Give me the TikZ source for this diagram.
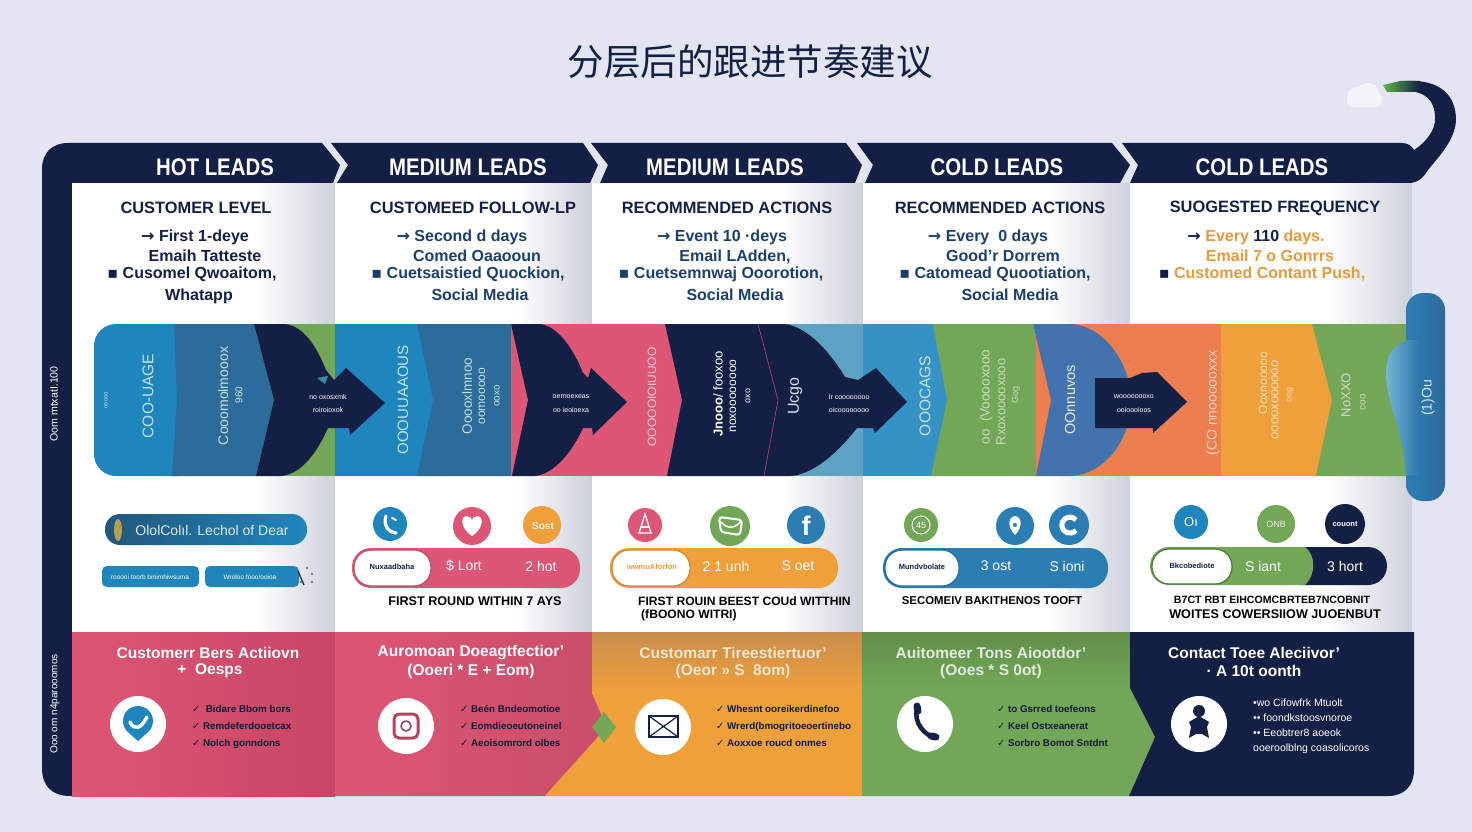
\documentclass[tikz,border=0pt]{standalone}
\usepackage{fontspec}
\setmainfont{Liberation Sans}
\newfontfamily\cjkfont{Noto Sans CJK SC}
\newfontfamily\symfont{DejaVu Sans}
\newfontfamily\headfont[FakeStretch=.85]{Liberation Sans}
\definecolor{paper}{HTML}{E3E6F2}
\definecolor{navyband}{HTML}{141F45}
\definecolor{bluea}{HTML}{1F86BD}
\definecolor{blueb}{HTML}{2B6C9B}
\definecolor{bluec}{HTML}{4273AC}
\definecolor{blued}{HTML}{2D7DB5}
\definecolor{skyblue}{HTML}{5FA3C4}
\definecolor{greenband}{HTML}{72A757}
\definecolor{pinkband}{HTML}{DE5675}
\definecolor{pinkdark}{HTML}{C84565}
\definecolor{orangeband}{HTML}{EFA03B}
\definecolor{orangetop}{HTML}{C98C4C}
\definecolor{redorange}{HTML}{EB7F4F}
\definecolor{inkblue}{HTML}{1C3F6E}
\definecolor{inkorange}{HTML}{E49A3F}
\definecolor{panelgray}{HTML}{CDD1DB}
\definecolor{dotgray}{HTML}{D8DCEA}
\pgfdeclarehorizontalshading{panelshade}{100bp}{color(0bp)=(white); color(25bp)=(white); color(60bp)=(white); color(75bp)=(panelgray); color(100bp)=(panelgray)}
\newcommand{\chk}{{\symfont ✓}}
\newcommand{\arr}{{\symfont →}}
\newcommand{\sqb}{{\symfont ▪}}
\begin{document}
\begin{tikzpicture}[x=1pt,y=-1pt,
		hdrtext/.style={text=white,inner sep=0,font=\headfont\bfseries\fontsize{24}{24}\selectfont},
		coltitle/.style={text=navyband,inner sep=0,font=\bfseries\fontsize{16.4}{17}\selectfont},
		colline/.style={inner sep=0,text height=11,text depth=3,font=\bfseries\fontsize{16}{17}\selectfont},
		bandtext/.style={rotate=90,inner sep=0,font=\fontsize{13}{14}\selectfont},
		tinytext/.style={text=white,inner sep=0,font=\fontsize{7}{8}\selectfont},
		pilltext/.style={text=white,inner sep=0,font=\fontsize{14}{14}\selectfont},
		pillname/.style={inner sep=0,font=\bfseries\fontsize{7.5}{8}\selectfont},
		roundtext/.style={text=black,inner sep=0,font=\bfseries\fontsize{12.6}{13}\selectfont},
		stagetitle/.style={text=white,inner sep=0,font=\bfseries\fontsize{15.5}{16}\selectfont},
		checktext/.style={anchor=west,text=navyband!80!black,inner sep=0,text height=8,text depth=2,font=\bfseries\fontsize{9.8}{11}\selectfont},
		sidetext/.style={rotate=90,text=white,inner sep=0,font=\fontsize{10}{10}\selectfont}]
	\useasboundingbox (0,0) rectangle (1472,832);
	\fill[paper] (0,0) rectangle (1472,832);
	\foreach \x in {1420,1430,...,1470} \foreach \y in {680,690,...,830} \fill[dotgray] (\x,\y) circle (.8);
	\foreach \x in {0,10,...,90} \foreach \y in {50,60,...,130} \fill[dotgray] (\x,\y) circle (.8);
	\node[inner sep=0,text=navyband,font=\cjkfont\fontsize{36.5}{36}\selectfont] (title) at (750,62) {分层后的跟进节奏建议};
	\foreach \x/\y/\r in {1357/97/10, 1368/94/11, 1374/99/8} \fill[white!60!paper] (\x,\y) circle (\r);
	\fill[white!60!paper,rounded corners=5] (1347,95) rectangle (1381,107);
	\fill[navyband] (42,169) .. controls (42,153) and (52,143) .. (68,143) -- (322,143) -- (340,165) -- (333,183) -- (72,183) -- (72,796) -- (70,796) .. controls (52,796) and (42,786) .. (42,768) -- cycle;
	\foreach \a/\b/\c/\d/\e/\f in {331/348/337/583/598/590, 591/608/600/846/862/855, 857/873/865/1112/1130/1120}
		\fill[navyband] (\a,143) -- (\d,143) -- (\e,165) -- (\f,183) -- (\c,183) -- (\b,165) -- cycle;
	\fill[navyband] (1122,143) -- (1402,143) .. controls (1408,143) and (1412,146) .. (1414,150) .. controls (1425,143) and (1436,130) .. (1435,118) .. controls (1435,100) and (1425,91) .. (1405,91) -- (1405,81) .. controls (1440,79) and (1456,95) .. (1456,120) .. controls (1455,140) and (1440,155) .. (1428,170) .. controls (1423,178) and (1418,183) .. (1408,183) -- (1130,183) -- (1138,165) -- cycle;
	\shade[left color=greenband!80!green,middle color=green!30!greenband!80!white,right color=navyband] (1383,85) -- (1400,81) -- (1420,81) -- (1420,92) -- (1400,92) -- (1387,92) -- cycle;
	\foreach \a/\b in {72/335, 335/592, 592/863, 863/1130, 1130/1412}
		\shade[shading=panelshade] (\a,183) rectangle (\b,632);
	% band
	\fill[greenband] (254,324) rectangle (335,476);
	\fill[bluea,rounded corners=22] (94,324) rectangle (200,476);
	\fill[blueb] (174,324) -- (254,324) -- (274,400) -- (256,476) -- (172,476) -- (177,400) -- cycle;
	\fill[bluea] (335,324) rectangle (440,476);
	\fill[blueb] (417,324) -- (511,324) -- (528,400) -- (512,476) -- (417,476) -- (433,400) -- cycle;
	\fill[pinkband] (511,324) rectangle (592,476);
	\fill[pinkband] (592,324) rectangle (690,476);
	\fill[skyblue] (784,324) rectangle (863,476);
	\fill[bluea!90!white] (863,324) rectangle (955,476);
	\fill[greenband] (933,324) -- (1033,324) -- (1051,400) -- (1036,476) -- (931,476) -- (947,400) -- cycle;
	\fill[redorange] (1036,324) rectangle (1221,476);
	\fill[bluec] (1033,324) -- (1071,324) .. controls (1105,326) and (1131,365) .. (1131,400) .. controls (1131,440) and (1105,474) .. (1071,476) -- (1036,476) -- (1051,400) -- cycle;
	\fill[orangeband] (1221,324) rectangle (1340,476);
	\fill[greenband] (1312,324) -- (1407,324) -- (1407,476) -- (1316,476) -- (1332,400) -- cycle;
	\fill[navyband] (254,324) -- (285,324) .. controls (305,326) and (318,350) .. (326,370) -- (334,380) -- (346,368) -- (385,403) -- (350,435) -- (349,428) -- (328,428) .. controls (318,450) and (303,474) .. (281,476) -- (256,476) -- (274,400) -- cycle;
	\fill[navyband] (511,324) -- (540,324) .. controls (558,326) and (574,350) .. (583,373) -- (588,378) -- (591,368) -- (627,402) -- (593,435) -- (592,428) -- (583,428) .. controls (573,450) and (555,474) .. (535,476) -- (512,476) -- (528,400) -- cycle;
	\fill[navyband] (665,324) -- (784,324) .. controls (808,326) and (832,355) .. (845,377) -- (858,380) -- (876,368) -- (907,402) -- (875,433) -- (873,428) -- (857,428) .. controls (840,450) and (815,474) .. (791,476) -- (667,476) -- (682,400) -- cycle;
	\draw[pinkband!70!navyband,line width=.7] (758,324) -- (778,400) -- (764,476);
	\fill[navyband] (1095,378) -- (1130,378) -- (1142,373) -- (1157,372) -- (1187,402) -- (1153,433) -- (1153,428) -- (1095,428) -- cycle;
	\fill[bluea!70!greenband] (317,378) -- (328,376) -- (325,384) -- cycle;
	\shade[left color=blued,right color=blueb,rounded corners=17] (1406,293) rectangle (1445,501);
	\shade[left color=bluea!60!white,right color=blued!55!blueb] (1407,340) .. controls (1398,345) and (1385,350) .. (1386,375) .. controls (1387,405) and (1403,430) .. (1406,475) -- (1420,475) -- (1420,340) -- cycle;
	% bottom strip
	\shade[left color=pinkband,right color=pinkdark] (72,632) rectangle (335,796);
	\shade[left color=pinkband,right color=pinkband!90!black] (335,632) -- (592,632) -- (592,693) -- (607,727) -- (545,796) -- (335,796) -- cycle;
	\fill[orangeband] (592,632) -- (862,632) -- (862,796) -- (545,796) -- (607,727) -- (592,693) -- cycle;
	\shade[top color=orangetop,bottom color=orangeband] (592,632) rectangle (862,692);
	\fill[greenband] (592,727) -- (604,712) -- (616,727) -- (604,743) -- cycle;
	\fill[greenband] (862,632) -- (1130,632) -- (1130,688) -- (1155,737) -- (1129,796) -- (862,796) -- cycle;
	\shade[top color=greenband!85!black,bottom color=greenband] (862,632) rectangle (1130,688);
	\fill[navyband] (1130,632) -- (1414,632) -- (1414,770) .. controls (1414,786) and (1404,796) .. (1388,796) -- (1129,796) -- (1155,737) -- (1130,688) -- cycle;
	% pills
	\shade[left color=blueb!80!black,right color=bluea,rounded corners=15] (105,514) rectangle (307,545);
	\fill[inkorange!60!greenband] (118,530) ellipse (4 and 11);
	\node[text=white!85!bluea,inner sep=0,font=\fontsize{14}{14}\selectfont] (pillone) at (212,530) {OlolColıl. Lechol of Dear};
	\fill[bluea,rounded corners=5] (102,566) rectangle (199,587);
	\fill[bluea,rounded corners=5] (205,566) rectangle (299,587);
	\draw[navyband,line width=1.2] (298,571) -- (304,585);
	\foreach \x/\y in {307/568, 312/574, 301/582, 312/582} \fill[navyband] (\x,\y) circle (.8);
	\node[tinytext,font=\fontsize{6.5}{7}\selectfont] (boxone) at (150,577) {rooooi toorb bmimhiwsuma};
	\node[tinytext,font=\fontsize{6.5}{7}\selectfont] (boxtwo) at (250,577) {Wroloo fooo/ooioa};
	\foreach \a/\b/\m/\c in {352/580/431/pinkband, 610/838/690/orangeband, 883/1108/959/blued}
		{\fill[\c,rounded corners=19] (\a,548) rectangle (\b,588);
		\fill[white,draw=\c!85!black,line width=1.2,rounded corners=17] (\a+2,550) rectangle (\m,586);}
	\fill[navyband,rounded corners=19] (1280,547) rectangle (1387,585);
	\fill[greenband,rounded corners=19] (1150,547) rectangle (1300,585);
	\fill[greenband] (1280,547) -- (1305,547) .. controls (1316,555) and (1316,575) .. (1305,585) -- (1280,585) -- cycle;
	\fill[white,draw=greenband!70!black,line width=1.2,rounded corners=17] (1152,549) rectangle (1232,584);
	% circles
	\foreach \x/\y/\r/\c in {390/524/17/bluea, 472/526/19/pinkband, 542/525/19/orangeband, 645/525/17/pinkband, 730/526/20/greenband, 806/525/19/blued, 921/525/17/greenband, 1015/526/19/blued, 1069/525/20/blued, 1191/522/17/bluea, 1276/524/19/greenband, 1345/524/20/navyband}
		\fill[\c] (\x,\y) circle (\r);
	\draw[white,line width=3.2,line cap=round] (386,516) .. controls (383,525) and (388,532) .. (396,533);
	\draw[white,line width=2,line cap=round] (392,518) -- (396,520);
	\fill[white] (472,536) .. controls (460,528) and (460,516) .. (467,516) .. controls (470,516) and (472,519) .. (472,520) .. controls (472,519) and (474,516) .. (477,516) .. controls (484,516) and (484,528) .. (472,536);
	\node[text=white!85!orangeband,inner sep=0,font=\bfseries\fontsize{10}{10}\selectfont] (sost) at (543,526) {Sost};
	\draw[white,line width=1.3] (645,514) -- (639,533) -- (651,533) -- cycle;
	\draw[white,line width=1.3] (641,527) -- (649,527);
	\draw[white,line width=2,rounded corners=3] (719,517) -- (742,520) -- (740,535) -- (721,532) -- cycle;
	\draw[white,line width=1.5] (721,522) .. controls (728,530) and (736,528) .. (741,521);
	\node[text=white,inner sep=0,font=\bfseries\fontsize{27}{27}\selectfont] (fb) at (806,526) {f};
	\node[text=white,inner sep=0,font=\fontsize{9}{9}\selectfont] (gicon) at (921,525) {45};
	\draw[white,line width=1] (921,525) circle (9);
	\fill[white] (1015,535) .. controls (1007,527) and (1008,517) .. (1015,516) .. controls (1022,517) and (1023,527) .. (1015,535);
	\fill[blued] (1015,525) circle (2);
	\draw[white,line width=5] (1076,520) arc (-40:-320:8);
	\node[text=white,inner sep=0,font=\fontsize{13}{13}\selectfont] (oi) at (1191,522) {Oı};
	\node[text=white!85!greenband,inner sep=0,font=\fontsize{9}{9}\selectfont] (onb) at (1276,524) {ONB};
	\node[text=white,inner sep=0,font=\bfseries\fontsize{7.5}{8}\selectfont] (couont) at (1345,524) {couont};
	% panel text
	\node[hdrtext] (hdrone) at (215,167) {HOT LEADS};
	\node[hdrtext] (hdrtwo) at (468,167) {MEDIUM LEADS};
	\node[hdrtext] (hdrthree) at (725,167) {MEDIUM LEADS};
	\node[hdrtext] (hdrfour) at (997,167) {COLD LEADS};
	\node[hdrtext] (hdrfive) at (1262,167) {COLD LEADS};
	\node[coltitle] (ctone) at (196,208) {CUSTOMER LEVEL};
	\node[coltitle] (cttwo) at (473,208) {CUSTOMEED FOLLOW-LP};
	\node[coltitle] (ctthree) at (727,208) {RECOMMENDED ACTIONS};
	\node[coltitle] (ctfour) at (1000,208) {RECOMMENDED ACTIONS};
	\node[coltitle] (ctfive) at (1275,208) {SUOGESTED FREQUENCY};
	\node[colline,text=navyband] (aone) at (195,237) {\arr{} First 1-deye};
	\node[colline,text=navyband] (bone) at (205,257) {Emaih Tatteste};
	\node[colline,text=navyband] (cone) at (192,274) {\sqb{} Cusomel Qwoaitom,};
	\node[colline,text=navyband] (done) at (199,296) {Whatapp};
	\node[colline,text=inkblue] (atwo) at (462,237) {\arr{} Second d days};
	\node[colline,text=inkblue] (btwo) at (477,257) {Comed Oaaooun};
	\node[colline,text=inkblue] (ctwo) at (468,274) {\sqb{} Cuetsaistied Quockion,};
	\node[colline,text=inkblue] (dtwo) at (480,296) {Social Media};
	\node[colline,text=inkblue] (athree) at (722,237) {\arr{} Event 10 ·deys};
	\node[colline,text=inkblue] (bthree) at (735,257) {Email LAdden,};
	\node[colline,text=inkblue] (cthree) at (721,274) {\sqb{} Cuetsemnwaj Ooorotion,};
	\node[colline,text=inkblue] (dthree) at (735,296) {Social Media};
	\node[colline,text=inkblue] (afour) at (988,237) {\arr{} Every\ \ 0 days};
	\node[colline,text=inkblue] (bfour) at (1003,257) {Good'r Dorrem};
	\node[colline,text=inkblue] (cfour) at (995,274) {\sqb{} Catomead Quootiation,};
	\node[colline,text=inkblue] (dfour) at (1010,296) {Social Media};
	\node[colline,text=inkorange] (afive) at (1256,237) {{\color{navyband}\arr{}} Every {\color{navyband}110} days.};
	\node[colline,text=inkorange] (bfive) at (1270,257) {Email 7 o Gonrrs};
	\node[colline,text=inkorange] (cfive) at (1262,274) {{\color{navyband}\sqb{}} Customed Contant Push,};
	% band text
	\node[sidetext,font=\fontsize{10.6}{11}\selectfont] (sideone) at (54,404) {Oom mtxatI.100};
	\node[sidetext] (sidetwo) at (55,704) {Ooo om n4parooomos};
	\node[bandtext,text=white!75!bluea,font=\fontsize{6}{6}\selectfont] (bt) at (106,400) {ooooo};
	\node[bandtext,text=white!75!bluea,font=\fontsize{15.5}{16}\selectfont] (bu) at (148,396) {COO-UAGE};
	\node[bandtext,text=white!75!bluea,font=\fontsize{14}{14}\selectfont] (bv) at (223,396) {Cooomolmooox};
	\node[bandtext,text=white!75!bluea,font=\fontsize{10}{10}\selectfont] (bw) at (239,395) {960};
	\node[bandtext,text=white!75!bluea,font=\fontsize{15}{15}\selectfont] (bx) at (403,400) {OOOUUAAOUS};
	\node[bandtext,text=white!75!bluea,font=\fontsize{13.5}{14}\selectfont] (by) at (467,396) {Ooooxlmnoo};
	\node[bandtext,text=white!75!bluea,font=\fontsize{12}{12}\selectfont] (bz) at (482,396) {oomooooo};
	\node[bandtext,text=white!75!bluea,font=\fontsize{10}{10}\selectfont] (ca) at (497,396) {ooxo};
	\node[bandtext,text=white!70!pinkband,font=\fontsize{12}{12}\selectfont] (cb) at (652,397) {OOOOOIOIUUOO};
	\node[bandtext,text=white,font=\fontsize{13}{13}\selectfont] (cc) at (718,394) {{\bfseries Jnooo}/ fooxoo};
	\node[bandtext,text=white,font=\fontsize{12}{12}\selectfont] (cd) at (733,396) {noxoooooooo};
	\node[bandtext,text=white,font=\fontsize{9}{9}\selectfont] (ce) at (748,396) {oxo};
	\node[bandtext,text=white!80!bluec,font=\fontsize{16}{16}\selectfont] (cf) at (795,396) {Ucgo};
	\node[bandtext,text=white!75!bluea,font=\fontsize{15.5}{16}\selectfont] (cg) at (925,396) {OOOCAGS};
	\node[bandtext,text=white!60!greenband,font=\fontsize{13.5}{14}\selectfont] (ch) at (986,397) {oo \ (Vooooxooo};
	\node[bandtext,text=white!60!greenband,font=\fontsize{13}{13}\selectfont] (ci) at (1001,402) {Rxoxooooxooo};
	\node[bandtext,text=white!60!greenband,font=\fontsize{9}{9}\selectfont] (cj) at (1016,395) {Gog};
	\node[bandtext,text=white!85!bluec,font=\fontsize{14.5}{15}\selectfont] (ck) at (1070,400) {OOnnuvos};
	\node[bandtext,text=white!65!redorange,font=\fontsize{14}{14}\selectfont] (cl) at (1213,403) {(CO nnoooooxxx};
	\node[bandtext,text=white!65!orangeband,font=\fontsize{12}{12}\selectfont] (cm) at (1263,383) {Ooxnooooo};
	\node[bandtext,text=white!65!orangeband,font=\fontsize{13}{13}\selectfont] (cn) at (1275,400) {ooooxoooooo};
	\node[bandtext,text=white!65!orangeband,font=\fontsize{9}{9}\selectfont] (co) at (1290,395) {oog};
	\node[bandtext,text=white!65!greenband,font=\fontsize{13}{13}\selectfont] (cp) at (1346,395) {NoXXO};
	\node[bandtext,text=white!65!greenband,font=\fontsize{10}{10}\selectfont] (cq) at (1363,402) {coo};
	\node[bandtext,text=white!85!blueb,font=\fontsize{14}{14}\selectfont] (cr) at (1428,398) {(1)Ou};
	\node[tinytext] (dra) at (328,397) {no oxosxmk};
	\node[tinytext] (drb) at (328,410) {roiroioxok};
	\node[tinytext] (drc) at (571,397) {oernoexeas};
	\node[tinytext] (drd) at (571,410) {oo ieoioexa};
	\node[tinytext] (dre) at (849,397) {Ir coooooooo};
	\node[tinytext] (drf) at (849,410) {oicoooooooo};
	\node[tinytext] (drg) at (1134,397) {woooooooxo};
	\node[tinytext] (drh) at (1134,410) {ooioooioos};
	% round labels
	\node[pillname,text=navyband] (pa) at (392,567) {Nuxaadbaha};
	\node[pilltext] (pb) at (464,566) {\$ Lort};
	\node[pilltext] (pc) at (541,566) {2 hot};
	\node[pillname,text=inkorange] (pd) at (652,567) {wwmoAforfon};
	\node[pilltext] (pe) at (726,566) {2 1 unh};
	\node[pilltext] (pf) at (798,566) {S oet};
	\node[pillname,text=navyband] (pg) at (922,567) {Mundvbolate};
	\node[pilltext] (ph) at (996,566) {3 ost};
	\node[pilltext] (pi) at (1067,566) {S ioni};
	\node[pillname,text=navyband] (pj) at (1192,566) {Bkcobediote};
	\node[pilltext] (pk) at (1263,566) {S iant};
	\node[pilltext] (pl) at (1345,566) {3 hort};
	\node[roundtext] (ra) at (475,601) {FIRST ROUND WITHIN 7 AYS};
	\node[roundtext,anchor=west,font=\bfseries\fontsize{12.1}{13}\selectfont] (rb) at (638,601) {FIRST ROUIN BEEST COUd WITTHIN};
	\node[roundtext,anchor=west,font=\bfseries\fontsize{12.1}{13}\selectfont] (rc) at (641,615) {(fBOONO WITRI)};
	\node[roundtext,font=\bfseries\fontsize{11.4}{12}\selectfont] (rd) at (992,601) {SECOMEIV BAKITHENOS TOOFT};
	\node[roundtext,font=\bfseries\fontsize{10.6}{12}\selectfont] (re) at (1272,600) {B7CT RBT EIHCOMCBRTEB7NCOBNIT};
	\node[roundtext] (rf) at (1275,614) {WOITES COWERSIIOW JUOENBUT};
	% bottom text
	\node[stagetitle] (sa) at (208,653) {Customerr Bers Actiiovn};
	\node[stagetitle] (sb) at (210,671) {+\ \ Oesps};
	\node[stagetitle] (sc) at (471,653) {Auromoan Doeagtfectior'};
	\node[stagetitle] (sd) at (471,671) {(Ooeri * E + Eom)};
	\node[stagetitle,text=white!75!orangeband] (se) at (733,653) {Customarr Tireestiertuor'};
	\node[stagetitle,text=white!75!orangeband] (sf) at (733,671) {(Oeor » S\ \ 8om)};
	\node[stagetitle,text=white!80!greenband] (sg) at (991,653) {Auitomeer Tons Aiootdor'};
	\node[stagetitle,text=white!80!greenband] (sh) at (991,671) {(Ooes * S 0ot)};
	\node[stagetitle] (si) at (1254,653) {Contact Toee Aleciivor'};
	\node[stagetitle] (sj) at (1254,671) {· A 10t oonth};
	\foreach \x/\y in {138/724, 406/726, 663/727, 925/724, 1199/724}
		\fill[white] (\x,\y) circle (28);
	\fill[bluea] (138,721) circle (15);
	\fill[bluea] (129,733) -- (147,733) -- (138,741) -- cycle;
	\draw[white,line width=3.5,line cap=round] (130,722) .. controls (134,730) and (140,730) .. (147,717);
	\draw[pinkband!80!black,line width=3,rounded corners=5] (394,714) rectangle (418,738);
	\draw[pinkband!60!navyband,line width=1.5] (406,726) circle (5);
	\draw[navyband,line width=1.6] (649,716) rectangle (678,737);
	\draw[navyband,line width=1.2] (649,716) -- (678,737) (678,716) -- (649,737);
	\draw[navyband,line width=4.5,line cap=round] (917,708) .. controls (913,722) and (925,737) .. (936,737);
	\draw[navyband,line width=7,line cap=round] (917,706) -- (918,711) (931,736) -- (936,737);
	\fill[navyband] (1199,711) circle (6);
	\fill[navyband] (1199,716) -- (1209,722) -- (1207,727) -- (1209,738) -- (1202,734) -- (1196,734) -- (1189,738) -- (1191,727) -- (1189,722) -- cycle;
	\node[checktext] (ta) at (192,709) {\chk\ \ Bidare Bbom bors};
	\node[checktext] (tb) at (192,726) {\chk\ Remdeferdooetcax};
	\node[checktext] (tc) at (192,743) {\chk\ Nolch gonndons};
	\node[checktext] (td) at (460,709) {\chk\ Beén Bndeomotioe};
	\node[checktext] (te) at (460,726) {\chk\ Eomdieoeutoneinel};
	\node[checktext] (tf) at (460,743) {\chk\ Aeoisomrord olbes};
	\node[checktext] (tg) at (716,709) {\chk\ Whesnt ooreikerdinefoo};
	\node[checktext] (th) at (716,726) {\chk\ Wrerd(bmogritoeoertinebo};
	\node[checktext] (ti) at (716,743) {\chk\ Aoxxoe roucd onmes};
	\node[checktext] (tj) at (997,709) {\chk\ to Gsrred toefeons};
	\node[checktext] (tk) at (997,726) {\chk\ Keel Ostxeanerat};
	\node[checktext] (tl) at (997,743) {\chk\ Sorbro Bomot Sntdnt};
	\node[checktext,text=white,font=\fontsize{10.5}{11}\selectfont] (tm) at (1253,703) {•wo Cifowfrk Mtuolt};
	\node[checktext,text=white,font=\fontsize{10.5}{11}\selectfont] (tn) at (1253,718) {•• foondkstoosvnoroe};
	\node[checktext,text=white,font=\fontsize{10.5}{11}\selectfont] (to) at (1253,733) {•• Eeobtrer8 aoeok};
	\node[checktext,text=white,font=\fontsize{10.5}{11}\selectfont] (tp) at (1253,748) {ooeroolblng coasolicoros};
\end{tikzpicture}
\end{document}
